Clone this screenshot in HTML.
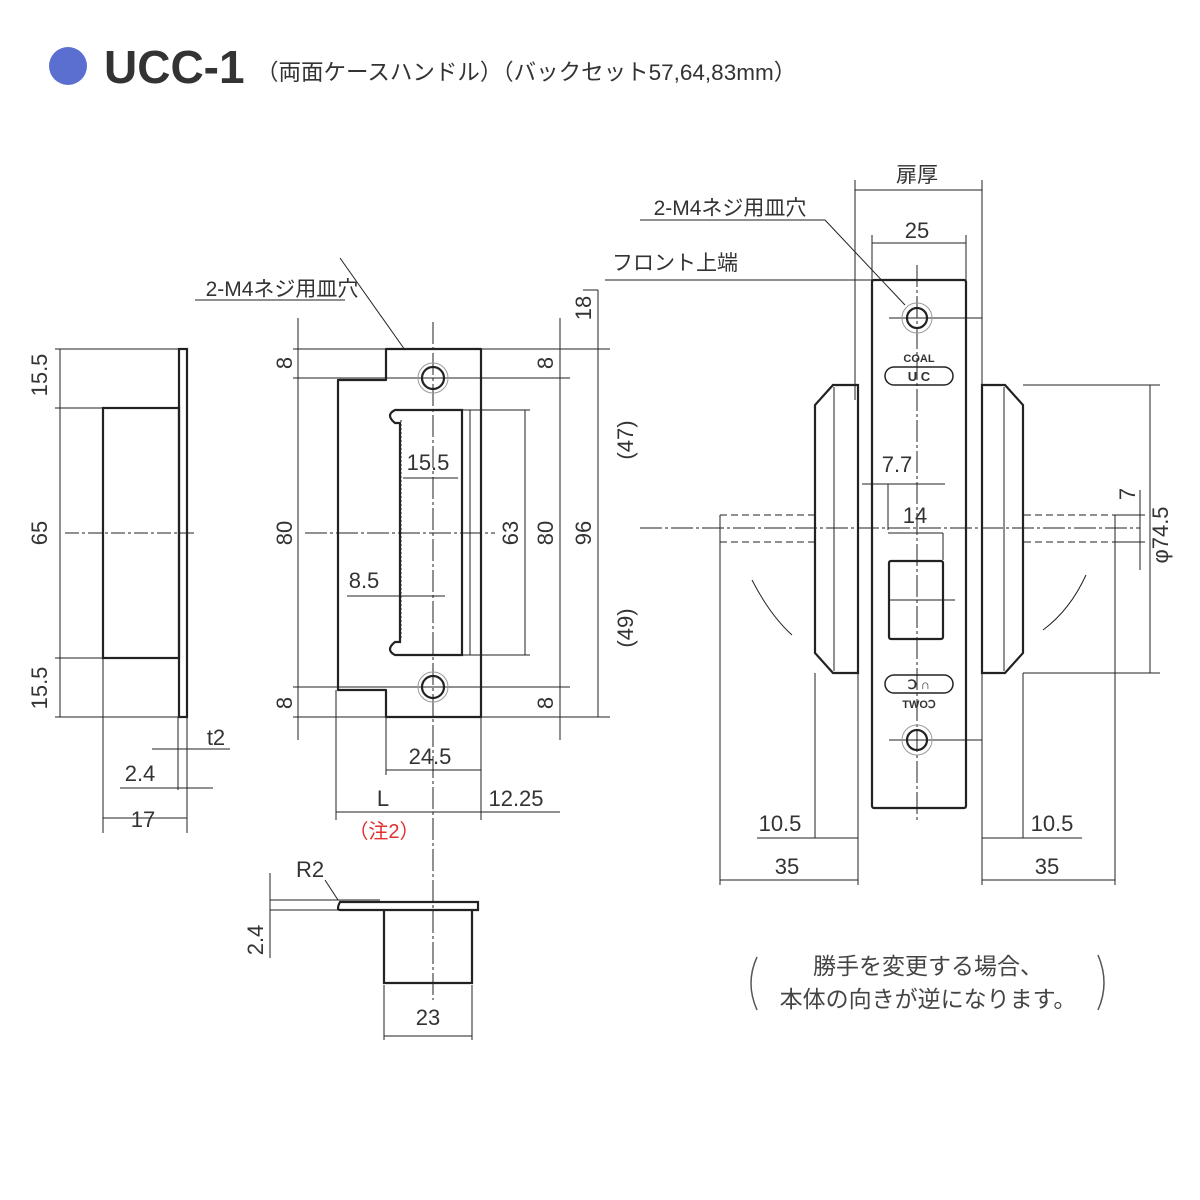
<!DOCTYPE html>
<html><head><meta charset="utf-8"><style>
html,body{margin:0;padding:0;background:#fff}
svg{display:block}
text{font-family:"Liberation Sans","Noto Sans CJK JP",sans-serif;fill:#333}
.t{font-size:22px}
.j{font-size:21px}
</style></head><body>
<svg width="1200" height="1200" viewBox="0 0 1200 1200" xmlns="http://www.w3.org/2000/svg">
<circle cx="68" cy="66" r="19" fill="#5a6fd0"/>
<text x="104" y="83" style="font-size:46px;font-weight:bold;fill:#333">UCC-1</text>
<text x="256" y="80" style="font-size:22.5px">（両面ケースハンドル）（バックセット57,64,83mm）</text>

<g stroke="#222" fill="none">
<!-- left side view -->
<g stroke-width="1">
<line x1="55" y1="349" x2="180" y2="349"/><line x1="55" y1="408" x2="178" y2="408"/>
<line x1="55" y1="658" x2="178" y2="658"/><line x1="55" y1="717" x2="180" y2="717"/>
<line x1="60" y1="349" x2="60" y2="717"/>
<line x1="65" y1="533" x2="195" y2="533" stroke-dasharray="14,3,3,3"/>
<line x1="103" y1="658" x2="103" y2="833"/><line x1="187" y1="717" x2="187" y2="833"/>
<line x1="178" y1="717" x2="178" y2="790"/>
<line x1="103" y1="818" x2="187" y2="818"/>
<line x1="120" y1="788" x2="213" y2="788"/>
<line x1="152" y1="749" x2="230" y2="749"/>
</g>
<g stroke-width="2.2">
<rect x="179" y="349" width="8" height="368"/>
<rect x="103" y="408" width="76" height="250"/>
</g>

<!-- strike plate -->
<g stroke-width="1">
<line x1="293" y1="349" x2="610" y2="349"/><line x1="293" y1="378" x2="570" y2="378"/>
<line x1="293" y1="687" x2="570" y2="687"/><line x1="293" y1="717" x2="610" y2="717"/>
<line x1="298" y1="318" x2="298" y2="740"/><line x1="560" y1="318" x2="560" y2="740"/>
<line x1="598" y1="290" x2="598" y2="717"/><line x1="583" y1="290" x2="598" y2="290"/>
<line x1="525" y1="410" x2="525" y2="655"/>
<line x1="462" y1="410" x2="530" y2="410"/><line x1="462" y1="655" x2="530" y2="655"/>
<line x1="433" y1="322" x2="433" y2="880" stroke-dasharray="22,3,3,3"/>
<line x1="433" y1="880" x2="433" y2="1000" stroke-dasharray="22,3,3,3"/>
<line x1="305" y1="533" x2="495" y2="533" stroke-dasharray="22,3,3,3"/>
<line x1="403" y1="478" x2="458" y2="478"/>
<line x1="347" y1="596" x2="445" y2="596"/>
<line x1="386" y1="717" x2="386" y2="775"/><line x1="481" y1="717" x2="481" y2="820"/>
<line x1="336" y1="690" x2="336" y2="820"/>
<line x1="386" y1="770" x2="481" y2="770"/>
<line x1="336" y1="812" x2="560" y2="812"/>
<line x1="340" y1="258" x2="405" y2="350"/>
<line x1="195" y1="300" x2="345" y2="300"/>
<line x1="401" y1="420" x2="401" y2="640" stroke-dasharray="2,2"/>
<line x1="470" y1="410" x2="470" y2="655"/>
</g>
<g stroke-width="2.2">
<path d="M386 349 H481 V717 H386 V690 H338 V380 H386 Z" stroke-linejoin="round"/>
<path d="M462 410 H395 Q385 415 395 423 H400 V642 H395 Q385 650 395 655 H462 Z"/>
<circle cx="433" cy="378" r="11"/><circle cx="433" cy="687" r="11"/>
</g>
<circle cx="433" cy="378" r="15" stroke="#999"/><circle cx="433" cy="687" r="15" stroke="#999"/>

<!-- bottom profile -->
<g stroke-width="1">
<line x1="270" y1="900" x2="380" y2="900"/><line x1="270" y1="910" x2="340" y2="910"/>
<line x1="270" y1="873" x2="270" y2="958"/>
<line x1="325" y1="880" x2="338" y2="900"/>
<line x1="384" y1="985" x2="384" y2="1040"/><line x1="472" y1="985" x2="472" y2="1040"/>
<line x1="384" y1="1036" x2="472" y2="1036"/>
</g>
<g stroke-width="2.2">
<path d="M340 910 Q336 910 340 902 H478 V910 H340"/>
<path d="M384 910 V983 H472 V910"/>
</g>

<!-- right front view -->
<g stroke-width="1">
<line x1="855" y1="180" x2="855" y2="400"/><line x1="982" y1="180" x2="982" y2="400"/>
<line x1="855" y1="190" x2="982" y2="190"/>
<line x1="872" y1="235" x2="872" y2="280"/><line x1="966" y1="235" x2="966" y2="280"/>
<line x1="872" y1="243" x2="966" y2="243"/>
<line x1="605" y1="280" x2="872" y2="280"/>
<line x1="640" y1="220" x2="825" y2="220"/><line x1="825" y1="220" x2="905" y2="305"/>
<line x1="917" y1="265" x2="917" y2="820" stroke-dasharray="22,3,3,3"/>
<line x1="889" y1="318" x2="982" y2="318"/>
<line x1="889" y1="740" x2="982" y2="740"/>
<line x1="640" y1="528" x2="1140" y2="528" stroke-dasharray="22,3,3,3"/>
<line x1="720" y1="515" x2="815" y2="515" stroke-dasharray="7,4"/><line x1="720" y1="542" x2="815" y2="542" stroke-dasharray="7,4"/>
<line x1="1024" y1="515" x2="1115" y2="515" stroke-dasharray="7,4"/><line x1="1024" y1="542" x2="1115" y2="542" stroke-dasharray="7,4"/>
<line x1="720" y1="515" x2="720" y2="885"/><line x1="1115" y1="515" x2="1115" y2="885"/>
<line x1="1115" y1="515" x2="1145" y2="515"/><line x1="1115" y1="542" x2="1145" y2="542"/>
<line x1="1140" y1="490" x2="1140" y2="570"/>
<line x1="1023" y1="385" x2="1160" y2="385"/><line x1="1023" y1="673" x2="1160" y2="673"/>
<line x1="1150" y1="385" x2="1150" y2="673"/>
<line x1="862" y1="484" x2="945" y2="484"/><line x1="888" y1="484" x2="888" y2="530"/>
<line x1="888" y1="533" x2="943" y2="533"/><line x1="943" y1="533" x2="943" y2="560"/>
<line x1="888" y1="600" x2="955" y2="600"/>
<line x1="815" y1="673" x2="815" y2="838"/><line x1="858" y1="400" x2="858" y2="885"/>
<line x1="982" y1="400" x2="982" y2="885"/><line x1="1023" y1="673" x2="1023" y2="838"/>
<line x1="757" y1="838" x2="858" y2="838"/><line x1="982" y1="838" x2="1082" y2="838"/>
<line x1="720" y1="880" x2="858" y2="880"/><line x1="982" y1="880" x2="1115" y2="880"/>
<path d="M752 580 Q770 615 792 635"/><path d="M1086 575 Q1070 610 1043 630"/>
</g>
<g stroke-width="2.2">
<rect x="872" y="280" width="94" height="528" rx="2"/>
<path d="M858 385 H833 L815 405 V653 L833 673 H858 Z"/><line x1="834" y1="387" x2="834" y2="671" stroke-width="1"/>
<path d="M982 385 H1005 L1023 405 V653 L1005 673 H982 Z"/><line x1="1004" y1="387" x2="1004" y2="671" stroke-width="1"/>
<circle cx="917" cy="318" r="10"/><circle cx="917" cy="740" r="10"/>
<rect x="889" y="561" width="54" height="78" rx="2"/>
<rect x="885" y="367" width="68" height="18" rx="9" stroke-width="1.5"/>
<rect x="885" y="675" width="68" height="18" rx="9" stroke-width="1.5"/>
</g>
<circle cx="917" cy="318" r="15" stroke="#999"/><circle cx="917" cy="740" r="15" stroke="#999"/>
<path d="M757 957 Q745 983 757 1010" stroke="#555" stroke-width="1.5"/><path d="M1098 955 Q1110 983 1098 1010" stroke="#555" stroke-width="1.5"/>
</g>

<g class="t">
<text transform="translate(47,375) rotate(-90)" text-anchor="middle">15.5</text>
<text transform="translate(47,533) rotate(-90)" text-anchor="middle">65</text>
<text transform="translate(47,688) rotate(-90)" text-anchor="middle">15.5</text>
<text x="216" y="745" text-anchor="middle">t2</text>
<text x="140" y="781" text-anchor="middle">2.4</text>
<text x="143" y="827" text-anchor="middle">17</text>
<text transform="translate(292,363) rotate(-90)" text-anchor="middle">8</text>
<text transform="translate(292,533) rotate(-90)" text-anchor="middle">80</text>
<text transform="translate(292,703) rotate(-90)" text-anchor="middle">8</text>
<text transform="translate(553,363) rotate(-90)" text-anchor="middle">8</text>
<text transform="translate(553,533) rotate(-90)" text-anchor="middle">80</text>
<text transform="translate(553,703) rotate(-90)" text-anchor="middle">8</text>
<text transform="translate(518,533) rotate(-90)" text-anchor="middle">63</text>
<text transform="translate(591,533) rotate(-90)" text-anchor="middle">96</text>
<text transform="translate(591,308) rotate(-90)" text-anchor="middle">18</text>
<text transform="translate(633,440) rotate(-90)" text-anchor="middle">(47)</text>
<text transform="translate(633,628) rotate(-90)" text-anchor="middle">(49)</text>
<text x="428" y="470" text-anchor="middle">15.5</text>
<text x="364" y="588" text-anchor="middle">8.5</text>
<text x="430" y="764" text-anchor="middle">24.5</text>
<text x="383" y="806" text-anchor="middle">L</text>
<text x="516" y="806" text-anchor="middle">12.25</text>
<text x="310" y="877" text-anchor="middle">R2</text>
<text transform="translate(263,940) rotate(-90)" text-anchor="middle">2.4</text>
<text x="428" y="1025" text-anchor="middle">23</text>
<text x="917" y="238" text-anchor="middle">25</text>
<text x="897" y="472" text-anchor="middle">7.7</text>
<text x="915" y="523" text-anchor="middle">14</text>
<text transform="translate(1135,494) rotate(-90)" text-anchor="middle">7</text>
<text transform="translate(1168,535) rotate(-90)" text-anchor="middle">φ74.5</text>
<text x="780" y="831" text-anchor="middle">10.5</text>
<text x="787" y="874" text-anchor="middle">35</text>
<text x="1052" y="831" text-anchor="middle">10.5</text>
<text x="1047" y="874" text-anchor="middle">35</text>
</g>
<text x="384" y="838" text-anchor="middle" style="font-size:20px;fill:#e03030">（注2）</text>
<g class="j">
<text x="282" y="296" text-anchor="middle">2-M4ネジ用皿穴</text>
<text x="730" y="215" text-anchor="middle">2-M4ネジ用皿穴</text>
<text x="675" y="270" text-anchor="middle">フロント上端</text>
<text x="917" y="182" text-anchor="middle">扉厚</text>
</g>
<text x="928" y="974" text-anchor="middle" style="font-size:23px;fill:#444">勝手を変更する場合、</text>
<text x="928" y="1007" text-anchor="middle" style="font-size:23px;fill:#444">本体の向きが逆になります。</text>
<text x="919" y="362" text-anchor="middle" style="font-size:11px;font-weight:bold">COAL</text>
<text x="919" y="381" text-anchor="middle" style="font-size:13px;font-weight:bold">U C</text>
<text x="919" y="689" text-anchor="middle" style="font-size:13px;font-weight:bold">Ↄ ∩</text>
<text x="919" y="708" text-anchor="middle" style="font-size:11px;font-weight:bold">TWOↃ</text>
</svg>
</body></html>
